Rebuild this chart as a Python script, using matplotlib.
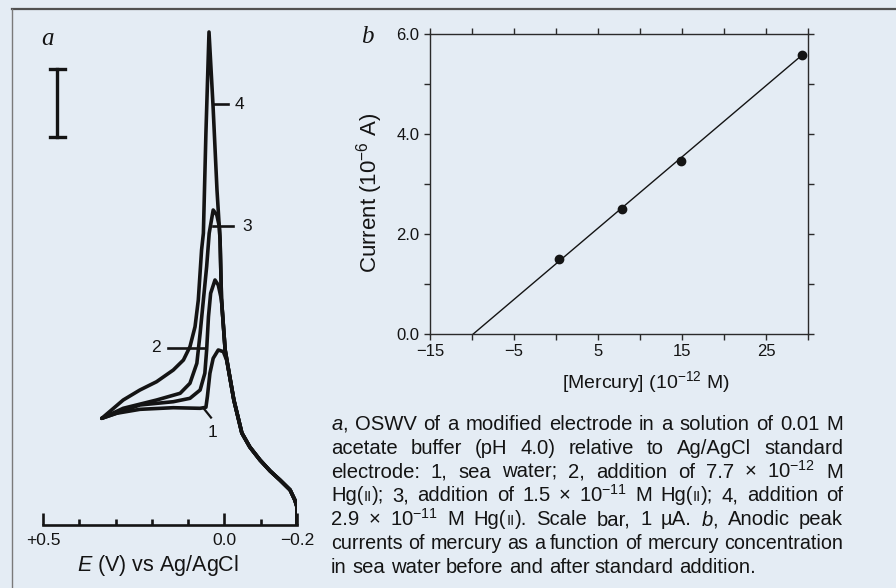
import numpy as np
import matplotlib
matplotlib.use("Agg")
import matplotlib.pyplot as plt

plt.rcParams['font.family'] = ['Liberation Sans', 'DejaVu Sans']
plt.rcParams['mathtext.fontset'] = 'custom'
plt.rcParams['mathtext.rm'] = 'Liberation Sans'
plt.rcParams['mathtext.it'] = 'Liberation Sans:italic'
plt.rcParams['mathtext.bf'] = 'Liberation Sans:bold'

# ---------------- data: panel a (OSWV curves, E in V, I in uA) ----------------
tail_E = np.array([0.0315, 0.0205, 0.012, 0.008, -0.002, -0.013, -0.026, -0.048,
                   -0.070, -0.098, -0.126, -0.153, -0.181, -0.194, -0.200, -0.200])
tail_I = np.array([6.176, 4.926, 4.191, 3.309, 2.574, 2.231, 1.838, 1.353,
                   1.147, 0.956, 0.794, 0.662, 0.515, 0.368, 0.265, 0.0])

curve1_E = [0.338, 0.297, 0.233, 0.141, 0.067, 0.051, 0.047, 0.040, 0.031, 0.017, 0.003, -0.006]
curve1_I = [1.569, 1.643, 1.701, 1.725, 1.716, 1.731, 1.887, 2.231, 2.451, 2.574, 2.549, 2.426]

curve2_E = [0.338, 0.233, 0.141, 0.095, 0.067, 0.054, 0.049, 0.044, 0.038, 0.026, 0.017]
curve2_I = [1.569, 1.765, 1.813, 1.863, 1.985, 2.231, 2.574, 3.063, 3.407, 3.603, 3.529]

curve3_E = [0.338, 0.279, 0.187, 0.122, 0.095, 0.076, 0.067, 0.058, 0.049, 0.042, 0.031, 0.021, 0.014]
curve3_I = [1.569, 1.716, 1.838, 1.937, 2.084, 2.378, 2.819, 3.309, 3.799, 4.290, 4.632, 4.559, 4.387]

curve4_E = [0.338, 0.279, 0.233, 0.187, 0.141, 0.113, 0.095, 0.081, 0.072, 0.063, 0.058, 0.051, 0.0425]
curve4_I = [1.569, 1.838, 1.985, 2.107, 2.279, 2.426, 2.622, 2.916, 3.309, 4.044, 4.290, 5.765, 7.250]

a_ticks = [0.5, 0.0, -0.2]
a_ticklabels = ['+0.5', '0.0', '\u22120.2']
a_minor = [0.4, 0.3, 0.2, 0.1, -0.1]

# ---------------- data: panel b ----------------
conc = [0.3, 7.8, 14.9, 29.3]          # [Mercury] (1e-12 M)
current = [1.5, 2.5, 3.46, 5.58]       # Current (1e-6 A)
fit_slope = 0.1425
fit_intercept = 1.404
b_xticks = [-15, -5, 5, 15, 25]
b_xticklabels = ['\u221215', '\u22125', '5', '15', '25']
b_yticks = [0, 2, 4, 6]
b_yticklabels = ['0.0', '2.0', '4.0', '6.0']

caption_lines = [
    ["$\\it{a}$,", "OSWV", "of", "a", "modified", "electrode", "in", "a", "solution", "of", "0.01", "M"],
    ["acetate", "buffer", "(pH", "4.0)", "relative", "to", "Ag/AgCl", "standard"],
    ["electrode:", "1,", "sea", "water;", "2,", "addition", "of", "7.7", "\u00d7", "$10^{-12}$", "M"],
    ["Hg(II);", "3,", "addition", "of", "1.5", "\u00d7", "$10^{-11}$", "M", "Hg(II);", "4,", "addition", "of"],
    ["2.9", "\u00d7", "$10^{-11}$", "M", "Hg(II).", "Scale", "bar,", "1", "\u00b5A.", "$\\it{b}$,", "Anodic", "peak"],
    ["currents", "of", "mercury", "as", "a", "function", "of", "mercury", "concentration"],
    ["in", "sea", "water", "before", "and", "after", "standard", "addition."],
]

# ---------------- figure ----------------
W, H = 896, 588
BG = '#e4ecf4'
INK = '#141414'
fig = plt.figure(figsize=(W / 100, H / 100), dpi=100, facecolor=BG)


def fx(x):
    return x / W


def fy(y):
    return 1 - y / H


# frame lines
fig.add_artist(plt.Line2D([fx(12), 1], [fy(9), fy(9)], color='#505050', lw=1.6))
fig.add_artist(plt.Line2D([fx(12), fx(12)], [fy(9), 0], color='#7a7a7a', lw=1.0))

# ---------------- panel a ----------------
axA = fig.add_axes([fx(43), fy(525), 254 / W, 516 / H])
axA.patch.set_visible(False)
axA.set_xlim(0.5, -0.2)
axA.set_ylim(0, 516 / 68)
for s in ['top', 'right', 'left']:
    axA.spines[s].set_visible(False)
axA.spines['bottom'].set_linewidth(1.9)
axA.spines['bottom'].set_color(INK)
axA.set_yticks([])
axA.set_xticks(a_ticks)
axA.set_xticklabels(a_ticklabels)
axA.set_xticks(a_minor, minor=True)
axA.tick_params(axis='x', which='major', direction='in', length=9, width=1.9,
                pad=6, labelsize=12.5, colors=INK)
axA.tick_params(axis='x', which='minor', direction='in', length=4.5, width=1.9, colors=INK)

for cE, cI in [(curve1_E, curve1_I), (curve2_E, curve2_I), (curve3_E, curve3_I), (curve4_E, curve4_I)]:
    mask = tail_I < cI[-1]
    E = np.concatenate([cE, tail_E[mask]])
    I = np.concatenate([cI, tail_I[mask]])
    axA.plot(E, I, color=INK, lw=2.6, solid_joinstyle='round', solid_capstyle='round')

# curve labels
lab_kw = dict(color=INK, fontsize=12.5, va='center')
axA.plot([0.0315, -0.0098], [6.19, 6.19], color=INK, lw=1.9)
axA.text(-0.028, 6.19, '4', ha='left', **lab_kw)
axA.plot([0.0315, -0.0236], [4.397, 4.397], color=INK, lw=1.9)
axA.text(-0.050, 4.397, '3', ha='left', **lab_kw)
axA.plot([0.1555, 0.0535], [2.603, 2.603], color=INK, lw=1.9)
axA.text(0.175, 2.603, '2', ha='right', **lab_kw)
axA.plot([0.058, 0.037], [1.72, 1.58], color=INK, lw=1.6)
axA.text(0.0315, 1.36, '1', ha='center', **lab_kw)

# scale bar (1 uA)
axA.plot([0.4614, 0.4614], [5.71, 6.71], color=INK, lw=2.4)
axA.plot([0.480, 0.439], [5.71, 5.71], color=INK, lw=2.4)
axA.plot([0.480, 0.439], [6.71, 6.71], color=INK, lw=2.4)

fig.text(fx(48), fy(39), 'a', family='Liberation Serif', style='italic', fontsize=18,
         color=INK, ha='center', va='center')
fig.text(fx(158), fy(566), '$\\it{E}$ (V) vs Ag/AgCl', fontsize=15.5, color=INK,
         ha='center', va='center')

# ---------------- panel b ----------------
axB = fig.add_axes([fx(430), fy(334), 378 / W, 300 / H])
axB.patch.set_visible(False)
axB.set_xlim(-15, 30)
axB.set_ylim(0, 6)
for s in axB.spines.values():
    s.set_linewidth(1.0)
    s.set_color('#2a2a2a')
axB.set_xticks(b_xticks)
axB.set_xticklabels(b_xticklabels)
axB.set_xticks([-10, 0, 10, 20, 30], minor=True)
axB.set_yticks(b_yticks)
axB.set_yticklabels(b_yticklabels)
axB.set_yticks([1, 3, 5], minor=True)
axB.tick_params(which='both', direction='out', length=4.5, width=1.0, colors='#2a2a2a',
                top=True, right=True, labelsize=12, pad=3)
for t in axB.get_xticklabels() + axB.get_yticklabels():
    t.set_color(INK)

x0 = -fit_intercept / fit_slope
xs = np.array([x0, conc[-1]])
axB.plot(xs, fit_slope * xs + fit_intercept, color=INK, lw=1.0)
axB.plot(conc, current, 'o', color=INK, ms=6)

fig.text(fx(367), fy(37), 'b', family='Liberation Serif', style='italic', fontsize=18,
         color=INK, ha='center', va='center')
fig.text(fx(646), fy(382), '[Mercury] ($10^{-12}$ M)', fontsize=14, color=INK,
         ha='center', va='center')
fig.text(fx(370), fy(193), 'Current ($10^{-6}$ A)', fontsize=16, color=INK,
         ha='center', va='center', rotation=90)

# ---------------- caption (justified) ----------------
renderer = fig.canvas.get_renderer()
CAP_FS = 14.6
left_px, right_px = 331, 843
avail = right_px - left_px
base0, line_step = 430, 23.83


def word_runs(word, fs):
    if 'Hg(II)' in word:
        pre, post = word.split('Hg(II)')
        return [(pre + 'Hg(', fs), ('II', fs * 0.72), (')' + post, fs)]
    return [(word, fs)]


def make_word(word, y, fs):
    arts = []
    total = 0
    for txt, rfs in word_runs(word, fs):
        t = fig.text(0, fy(y), txt, fontsize=rfs, color=INK, ha='left', va='baseline')
        w = t.get_window_extent(renderer).width
        arts.append((t, w))
        total += w
    return arts, total


def space_width(fs):
    a = fig.text(0, 0, 'n n', fontsize=fs)
    b = fig.text(0, 0, 'nn', fontsize=fs)
    w = a.get_window_extent(renderer).width - b.get_window_extent(renderer).width
    a.remove()
    b.remove()
    return w


def build_line(words, y, fs):
    built = [make_word(w, y, fs) for w in words]
    return built, sum(b[1] for b in built)


for li, words in enumerate(caption_lines):
    y = base0 + li * line_step
    fs = CAP_FS
    sw = space_width(fs)
    built, total = build_line(words, y, fs)
    natural = total + sw * (len(words) - 1)
    if natural > avail:
        for arts, _ in built:
            for t, _w in arts:
                t.remove()
        fs = CAP_FS * avail / natural
        sw = space_width(fs)
        built, total = build_line(words, y, fs)
    if li == len(caption_lines) - 1:
        gap = sw
    else:
        gap = (avail - total) / (len(built) - 1)
    cx = left_px
    for arts, width in built:
        rx = cx
        for t, w in arts:
            t.set_x(fx(rx))
            rx += w
        cx += width + gap

fig.savefig('out.png', dpi=100, facecolor=BG)
